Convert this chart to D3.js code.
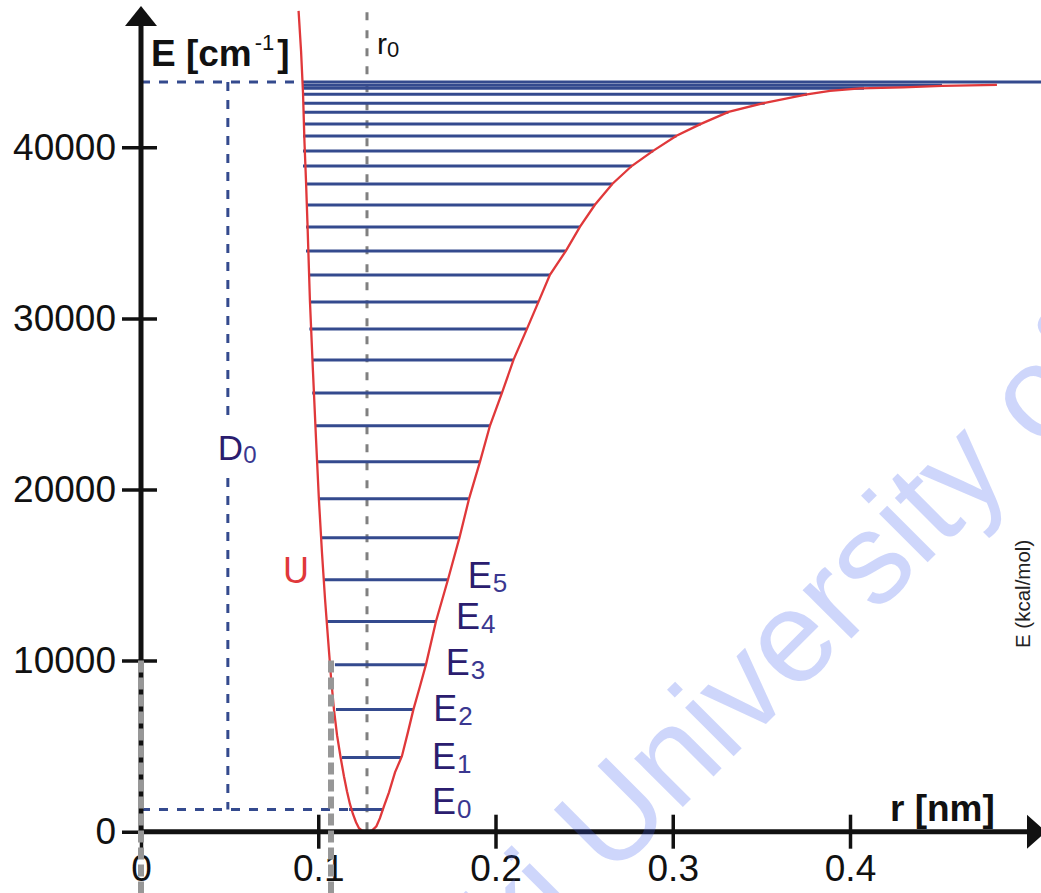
<!DOCTYPE html>
<html>
<head>
<meta charset="utf-8">
<script src="https://cdn.jsdelivr.net/npm/d3@7"></script>
<style>
  body { margin: 0; background: #fff; }
  svg { display: block; font-family: "Liberation Sans", Arial, sans-serif; }
</style>
</head>
<body>
<svg id="chart"></svg>
<script>
// vibrational levels [cm^-1] with their classical turning points [nm]
const levelEnergy = [1296, 4333, 7136, 9764, 12292, 14727, 17180, 19457, 21618, 23720,
  25647, 27574, 29384, 30961, 32537, 33939, 35340, 36625, 37851, 38902,
  39778, 40654, 41355, 42055, 42581, 43107, 43445, 43630, 43810];
const levelLeft = [0.1174, 0.1134, 0.1100, 0.1094, 0.1051, 0.1034, 0.1016, 0.1003, 0.0999, 0.0983,
  0.0966, 0.0966, 0.0950, 0.0950, 0.0950, 0.0931, 0.0931, 0.0931, 0.0931, 0.0914,
  0.0914, 0.0914, 0.0914, 0.0914, 0.0914, 0.0914, 0.0914, 0.0914, 0.0914];
const levelRight = [0.1367, 0.1471, 0.1536, 0.1606, 0.1664, 0.1730, 0.1796, 0.1849, 0.1913, 0.1969,
  0.2035, 0.2100, 0.2176, 0.2241, 0.2307, 0.2396, 0.2477, 0.2561, 0.2659, 0.2770,
  0.2890, 0.3021, 0.3158, 0.3314, 0.3519, 0.3757, 0.4079, 0.4519, 0.5100];

// potential curve U(r)
const curveR = [0.0889, 0.0903, 0.0914, 0.0922, 0.0931, 0.0939, 0.0953, 0.0970, 0.0987, 0.1004,
  0.1021, 0.1038, 0.1055, 0.1072, 0.1089, 0.1106, 0.1126, 0.1145, 0.1162, 0.1179,
  0.1196, 0.1213, 0.1230, 0.1247, 0.1275, 0.1303, 0.1328, 0.1348, 0.1371, 0.1399,
  0.1433, 0.1472, 0.1506, 0.1537, 0.1574, 0.1608, 0.1664, 0.1732, 0.1797, 0.1851,
  0.1913, 0.1969, 0.2037, 0.2102, 0.2178, 0.2243, 0.2307, 0.2398, 0.2477, 0.2561,
  0.2660, 0.2770, 0.2889, 0.3021, 0.3159, 0.3315, 0.3520, 0.3757, 0.3887, 0.4057,
  0.4300, 0.4519, 0.4829];
const curveE = [47970, 45630, 43190, 40380, 38000, 35600, 31050, 26950, 23040, 19360,
  16320, 13630, 11300, 9020, 7100, 5640, 4350, 3240, 2360, 1610,
  1020, 555, 205, 60, 0, 60, 320, 790, 1490, 2300,
  3470, 4410, 5820, 7150, 8500, 9780, 12290, 14740, 17200, 19470,
  21640, 23740, 25660, 27590, 29400, 30980, 32550, 33960, 35360, 36640,
  37870, 38920, 39790, 40670, 41370, 42070, 42600, 43090, 43300, 43440,
  43500, 43590, 43650];

const xTickValues = [0, 0.1, 0.2, 0.3, 0.4];
const yTickValues = [0, 10000, 20000, 30000, 40000];
const levelLabels = ["0", "1", "2", "3", "4", "5"];
const r0 = 0.1275;
const d0MarkR = 0.049;
const ghostR = [0, 0.1072];
const ghostTopE = 10000;
const topE = 47900;

const width = 1041, height = 893;
const margin = { top: 10, right: 11, bottom: 61.3, left: 141 };
const innerHeight = height - margin.top - margin.bottom;

const blue = "#344a8e", red = "#e0383a", ink = "#111", navy = "#2b1d6f";

const svg = d3.select("#chart").attr("width", width).attr("height", height);
svg.append("rect").attr("width", width).attr("height", height).attr("fill", "#fff");

const g = svg.append("g").attr("transform", `translate(${margin.left},${margin.top})`);

const x = d3.scaleLinear().domain([0, 0.4]).range([0, 709]);
const y = d3.scaleLinear().domain([0, 40000]).range([innerHeight, 137.3]);

// r0 marker line
g.append("line")
  .attr("x1", x(r0)).attr("x2", x(r0))
  .attr("y1", y(topE)).attr("y2", y(0))
  .attr("stroke", "#808080").attr("stroke-width", 3)
  .attr("stroke-dasharray", "8,10");

// D0 construction (dashed)
const topIdx = levelEnergy.length - 1;
const dashed = [
  [0, levelEnergy[topIdx], levelLeft[topIdx] - 0.002, levelEnergy[topIdx]],
  [d0MarkR, levelEnergy[topIdx], d0MarkR, levelEnergy[0]],
  [0, levelEnergy[0], levelLeft[0], levelEnergy[0]]
];
g.selectAll(".d0line").data(dashed).join("line")
  .attr("class", "d0line")
  .attr("x1", d => x(d[0])).attr("y1", d => y(d[1]))
  .attr("x2", d => x(d[2])).attr("y2", d => y(d[3]))
  .attr("stroke", blue).attr("stroke-width", 3)
  .attr("stroke-dasharray", "9,9");

// vibrational levels
const levels = levelEnergy.map((e, i) => ({ e: e, left: levelLeft[i], right: levelRight[i] }));
g.selectAll(".level").data(levels).join("line")
  .attr("class", "level")
  .attr("x1", d => x(d.left)).attr("x2", d => x(d.right))
  .attr("y1", d => y(d.e)).attr("y2", d => y(d.e))
  .attr("stroke", blue).attr("stroke-width", 3);

// potential curve
const curve = curveR.map((r, i) => [r, curveE[i]]);
g.append("path")
  .datum(curve)
  .attr("fill", "none")
  .attr("stroke", red)
  .attr("stroke-width", 2.3)
  .attr("d", d3.line().x(d => x(d[0])).y(d => y(d[1])));

// axes
const yAxis = g.append("g")
  .call(d3.axisLeft(y).tickValues(yTickValues).tickSize(19).tickPadding(6).tickFormat(d3.format("d")));
const xAxis = g.append("g")
  .attr("transform", `translate(0,${innerHeight})`)
  .call(d3.axisBottom(x).tickValues(xTickValues).tickSize(17).tickPadding(6)
    .tickFormat(d => d === 0 ? "0" : d3.format(".1f")(d)));
[yAxis, xAxis].forEach(ax => {
  ax.attr("font-size", null).attr("font-family", null);
  ax.select(".domain").remove();
  ax.selectAll(".tick line").attr("stroke", ink).attr("stroke-width", 3.5);
  ax.selectAll("text").attr("font-size", 37).attr("fill", ink);
});
yAxis.selectAll(".tick line").attr("x1", 16);
xAxis.selectAll(".tick line").attr("y1", -17);

// axis lines with arrow heads
g.append("line").attr("x1", 0).attr("x2", 0).attr("y1", innerHeight + 2).attr("y2", 12)
  .attr("stroke", ink).attr("stroke-width", 5);
g.append("line").attr("x1", -2).attr("x2", 890).attr("y1", innerHeight).attr("y2", innerHeight)
  .attr("stroke", ink).attr("stroke-width", 5);
g.append("path").attr("d", "M0,-4L-16,16L16,16Z").attr("fill", ink);
g.append("path").attr("d", `M905,${innerHeight}L886,${innerHeight - 17}L886,${innerHeight + 17}Z`).attr("fill", ink);

// grey selection marks
g.selectAll(".ghost").data(ghostR).join("line")
  .attr("class", "ghost")
  .attr("x1", d => x(d)).attr("x2", d => x(d))
  .attr("y1", y(ghostTopE)).attr("y2", height - margin.top)
  .attr("stroke", "#979797").attr("stroke-width", 6)
  .attr("stroke-dasharray", "12,5");

// axis titles
const eTitle = svg.append("text").attr("x", 151).attr("y", 66)
  .attr("font-size", 37).attr("font-weight", "bold").attr("fill", ink);
eTitle.append("tspan").text("E [cm");
eTitle.append("tspan").attr("font-size", 22).attr("font-weight", "normal").attr("dy", -16).attr("dx", 3).text("-1");
eTitle.append("tspan").attr("dy", 16).attr("dx", 3).text("]");

svg.append("text").attr("x", 890).attr("y", 821).attr("font-size", 37)
  .attr("font-weight", "bold").attr("fill", ink).text("r [nm]");

// r0 label
const r0Label = svg.append("text").attr("x", 377).attr("y", 54).attr("font-size", 30).attr("fill", ink);
r0Label.append("tspan").text("r");
r0Label.append("tspan").attr("font-size", 22).attr("dy", 3).text("0");

// D0 label (gap in dashed line)
g.append("rect").attr("x", x(d0MarkR) - 4).attr("y", 413).attr("width", 8).attr("height", 52).attr("fill", "#fff");
const d0Label = g.append("text").attr("x", x(d0MarkR) - 10).attr("y", 450).attr("font-size", 35).attr("fill", navy);
d0Label.append("tspan").text("D");
d0Label.append("tspan").attr("font-size", 24).attr("dy", 3).attr("fill", "#3a3790").text("0");

// U label
svg.append("text").attr("x", 283).attr("y", 583).attr("font-size", 36).attr("fill", red).text("U");

// level labels E0..E5
const labelDy = [4, 11, 11, 10, 8, 8];
const eLabels = g.selectAll(".elabel").data(levels.slice(0, levelLabels.length)).join("text")
  .attr("class", "elabel")
  .attr("x", d => Math.max(x(d.right) + 20, 291))
  .attr("y", (d, i) => y(d.e) + labelDy[i])
  .attr("font-size", 36).attr("fill", navy);
eLabels.append("tspan").text("E");
eLabels.append("tspan").attr("font-size", 26).attr("dy", 4).attr("dx", 1).attr("fill", "#3a3790")
  .text((d, i) => levelLabels[i]);

// secondary axis title
svg.append("text").attr("transform", "translate(1030,648) rotate(-90)")
  .attr("font-size", 20.5).attr("fill", "#222").text("E (kcal/mol)");

// watermark
const wm = svg.append("g").attr("transform", "translate(610,880) rotate(-45)")
  .attr("font-size", 130).attr("fill", "rgb(60,90,240)").attr("fill-opacity", 0.25);
wm.append("text").attr("x", 0).text("University of Technology");
wm.append("text").attr("x", -36).attr("text-anchor", "end").text("Helsinki");
</script>
</body>
</html>
